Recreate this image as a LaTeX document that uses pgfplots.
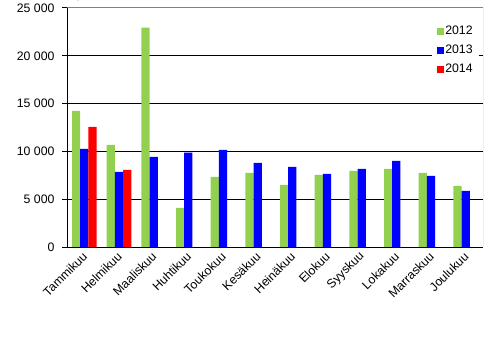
\documentclass[border=0pt]{standalone}
\usepackage{pgfplots}
\pgfplotsset{compat=1.18}
\usepackage{fontspec}
\setmainfont{Liberation Sans}
\definecolor{g12}{RGB}{146,208,80}
\definecolor{b13}{RGB}{0,0,255}
\definecolor{r14}{RGB}{255,0,0}
\begin{document}
\begin{tikzpicture}
\useasboundingbox (0,0) rectangle (498bp,340bp);
\begin{axis}[
  at={(67bp,93bp)}, anchor=south west,
  scale only axis, width=416bp, height=239bp,
  xmin=-0.5, xmax=11.5, ymin=0, ymax=25000,
  ybar, bar width=8.2bp,
  xtick={0,...,11},
  xticklabels={Tammikuu,Helmikuu,Maaliskuu,Huhtikuu,Toukokuu,Kesäkuu,Heinäkuu,Elokuu,Syyskuu,Lokakuu,Marraskuu,Joulukuu},
  x tick label style={rotate=45, anchor=east, inner sep=1bp, font=\fontsize{12.3bp}{14bp}\selectfont, yshift=-2bp},
  major x tick style={draw=none},
  extra x ticks={-0.5,0.5,...,11.5},
  extra x tick labels={},
  extra x tick style={major tick length=5bp, tick align=outside, xmajorgrids=false, major tick style={draw=black, line width=1bp}},
  ytick={0,5000,10000,15000,20000,25000},
  yticklabels={0,5~000,10~000,15~000,20~000,25~000},
  y tick label style={font=\fontsize{12.3bp}{14bp}\selectfont, xshift=-4bp},
  ytick pos=left, xtick pos=bottom,
  tick align=outside, major tick length=5bp,
  major y tick style={draw=black, line width=1bp},
  ymajorgrids, grid style={black, line width=1bp},
  axis line style={draw=none},
  legend style={at={(0.99,0.946)}, anchor=north east, draw=none, fill=white,
    font=\fontsize{12.3bp}{14bp}\selectfont, inner xsep=5bp, inner ysep=3bp, row sep=5bp,
    nodes={inner xsep=1bp}},
  legend cell align=left,
  legend image code/.code={\path[#1, draw=none] (0bp,-3.5bp) rectangle (7bp,3.5bp);},
]
\addplot[fill=g12, draw=none, bar shift=-8.2bp] coordinates {
(0,14250) (1,10680) (2,22940) (3,4090) (4,7330) (5,7750) (6,6490) (7,7540) (8,7960) (9,8170) (10,7750) (11,6390)};
\addplot[fill=b13, draw=none, bar shift=0bp] coordinates {
(0,10270) (1,7860) (2,9430) (3,9880) (4,10160) (5,8800) (6,8380) (7,7650) (8,8170) (9,9010) (10,7440) (11,5870)};
\addplot[fill=r14, draw=none, bar shift=8.2bp] coordinates {
(0,12570) (1,8070)};
\legend{2012,2013,2014}
\draw[gray, line width=1bp] (rel axis cs:0,1) -- (rel axis cs:1,1) -- (rel axis cs:1,0);
\draw[black, line width=1bp] (rel axis cs:0,1) -- (rel axis cs:0,0) -- (rel axis cs:1,0);
\end{axis}
\end{tikzpicture}
\end{document}
